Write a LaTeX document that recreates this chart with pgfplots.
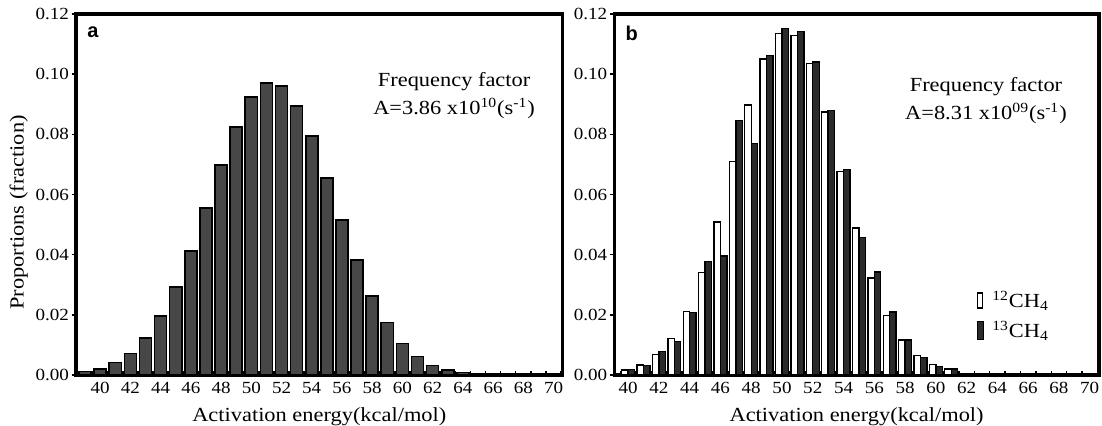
\documentclass[border=0pt]{standalone}
\usepackage{fontspec}
\setmainfont{Liberation Serif}[FakeStretch=1.12]
\newfontfamily\panelfont{Liberation Sans}
\usepackage{pgfplots}
\pgfplotsset{compat=1.18}

\definecolor{bara}{gray}{0.28}
\definecolor{barb}{gray}{0.17}

\pgfplotsset{
  panel/.style={
    scale only axis,
    height=180.5pt,
    ymin=0, ymax=0.12,
    axis line style={line width=1.8pt},
    ybar,
    xtick={40,42,...,70},
    minor xtick={38.5,39.5,...,70.5},
    ytick={0,0.02,0.04,0.06,0.08,0.10,0.12},
    minor ytick={0,0.02,0.04,0.06,0.08,0.10,0.12},
    major tick length=0pt,
    minor tick length=2.2pt,
    xtick align=inside, ytick align=outside,
    tick pos=left,
    tick style={black, line width=0.7pt},
    scaled y ticks=false,
    yticklabel style={/pgf/number format/.cd, fixed, fixed zerofill, precision=2},
    /pgf/number format/assume math mode=true,
    tick label style={font=\fontsize{8.5}{10}\selectfont},
    label style={font=\fontsize{10}{12}\selectfont},
    xlabel={Activation energy(kcal/mol)},
  }
}

% panel a: single distribution
\pgfplotstableread{
x    p
39   0.0011
40   0.0019
41   0.0042
42   0.0071
43   0.0123
44   0.0196
45   0.0293
46   0.0413
47   0.0555
48   0.0698
49   0.0824
50   0.0924
51   0.0971
52   0.0961
53   0.0894
54   0.0795
55   0.0655
56   0.0515
57   0.0382
58   0.0263
59   0.0174
60   0.0105
61   0.0061
62   0.0031
63   0.0017
64   0.0008
}\dataA

% panel b: 12CH4 and 13CH4
\pgfplotstableread{
x    c12     c13
40   0.0017  0.0019
41   0.0033  0.0031
42   0.0069  0.0079
43   0.0122  0.0112
44   0.0212  0.0207
45   0.0340  0.0378
46   0.0508  0.0396
47   0.0709  0.0846
48   0.0897  0.0769
49   0.1051  0.1063
50   0.1135  0.1151
51   0.1129  0.1141
52   0.1036  0.1040
53   0.0874  0.0879
54   0.0676  0.0683
55   0.0489  0.0458
56   0.0323  0.0342
57   0.0198  0.0209
58   0.0116  0.0116
59   0.0065  0.0059
60   0.0034  0.0029
61   0.0020  0.0020
}\dataB

\begin{document}
\begin{tikzpicture}
\useasboundingbox (0,0) rectangle (551pt,213pt);

\begin{axis}[panel,
    at={(38pt,25.5pt)}, anchor=south west,
    width=243.3pt,
    xmin=38.4, xmax=70.6,
    ylabel={Proportions (fraction)},
    ylabel style={at={(ticklabel cs:0.45)}},
    ylabel shift=-3pt,
  ]
  \addplot[ybar, bar width=0.8, bar shift=0, fill=bara, draw=black, line width=0.8pt]
    table[x=x, y=p] {\dataA};
  \node[font=\panelfont\bfseries\fontsize{10}{12}\selectfont] at (rel axis cs:0.035,0.95) {a};
  \node[font=\fontsize{10}{14}\selectfont, align=center] at (rel axis cs:0.777,0.773)
    {Frequency factor\\A=3.86 x10\textsuperscript{10}(s\textsuperscript{-1})};
\end{axis}

\begin{axis}[panel,
    at={(307.15pt,25.5pt)}, anchor=south west,
    width=242.3pt,
    xmin=39.1, xmax=70.6,
    legend style={at={(0.735,0.255)}, anchor=north west, draw=none, fill=none,
      font=\fontsize{10}{12}\selectfont, row sep=1pt,
      nodes={inner xsep=4pt}},
    legend cell align=left,
  ]
  \addplot[ybar, bar width=0.42, bar shift=-0.21, fill=white, draw=black, line width=0.7pt,
    legend image code/.code={\draw[fill=white, draw=black, line width=0.7pt] (0pt,-3.5pt) rectangle (2.4pt,4pt);}]
    table[x=x, y=c12] {\dataB};
  \addlegendentry{\textsuperscript{12}CH\textsubscript{4}}
  \addplot[ybar, bar width=0.42, bar shift=0.21, fill=barb, draw=black, line width=0.7pt,
    legend image code/.code={\draw[fill=barb, draw=black, line width=0.7pt] (0pt,-4.5pt) rectangle (3pt,4.5pt);}]
    table[x=x, y=c13] {\dataB};
  \addlegendentry{\textsuperscript{13}CH\textsubscript{4}}
  \node[font=\panelfont\bfseries\fontsize{10}{12}\selectfont] at (rel axis cs:0.036,0.947) {b};
  \node[font=\fontsize{10}{14}\selectfont, align=center] at (rel axis cs:0.767,0.759)
    {Frequency factor\\A=8.31 x10\textsuperscript{09}(s\textsuperscript{-1})};
\end{axis}
\end{tikzpicture}
\end{document}
